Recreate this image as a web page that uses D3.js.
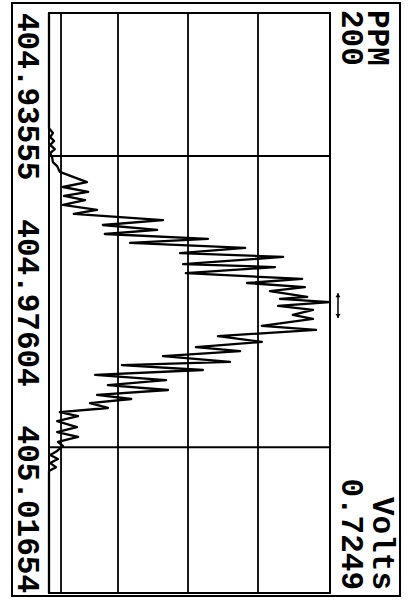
<!DOCTYPE html>
<html>
<head>
<meta charset="utf-8">
<script src="https://cdn.jsdelivr.net/npm/d3@7/dist/d3.min.js"></script>
<style>
  body { margin: 0; background: #fff; }
  text { font-family: "Liberation Mono", "DejaVu Sans Mono", monospace; font-weight: bold; fill: #000; }
</style>
</head>
<body>
<div class="container"></div>
<script>
// trace: offset from start wavelength (ppm) and signal (volts)
const ppm = [0, 39.7, 41.4, 42.8, 44.1, 45.5, 46.9, 48.3, 49.7, 51.4, 52.8, 54.8,
  58.3, 60.0, 61.7, 63.1, 64.5, 66.2, 67.9, 69.3, 71.4, 73.1, 74.8, 76.2, 77.9, 79.3,
  81.0, 82.8, 84.1, 86.6, 87.6, 89.7, 91.7, 93.1, 94.5, 95.9, 97.9, 98.6, 99.7,
  101.0, 102.4, 104.1, 105.5, 107.9, 109.3, 111.4, 113.4, 115.2, 116.6, 118.3, 120.3,
  121.4, 123.1, 124.8, 126.6, 128.3, 130.0, 131.7, 133.1, 134.5, 136.2, 137.6,
  139.0, 140.7, 142.8, 144.5, 146.2, 147.9, 149.3, 151.0, 152.4, 153.8, 155.2, 156.6,
  157.9, 161.0, 200];
const volts = [0, 0, 0.010, 0.003, 0.013, 0.003, 0.015, 0.003, 0.008, 0.010, 0.021, 0.028,
  0.098, 0.036, 0.101, 0.039, 0.093, 0.036, 0.124, 0.064, 0.294, 0.139, 0.279, 0.144, 0.410, 0.209,
  0.506, 0.338, 0.604, 0.346, 0.583, 0.353, 0.653, 0.511, 0.660, 0.570, 0.666, 0.596, 0.7249,
  0.591, 0.681, 0.629, 0.681, 0.549, 0.689, 0.436, 0.549, 0.379, 0.493, 0.294, 0.467,
  0.188, 0.397, 0.119, 0.302, 0.152, 0.307, 0.124, 0.212, 0.106, 0.152, 0.028,
  0.075, 0.021, 0.072, 0.021, 0.075, 0.023, 0.036, 0.021, 0.003, 0.023, 0.003, 0.018,
  0, 0, 0];

const tickValues = [0, 100, 200];
const tickLabels = ["404.93555", "404.97604", "405.01654"];
const gridVolts = [0.178, 0.3586, 0.5392];
const baselineVolts = [0.031];
const cursorPpm = [49.3, 149.7];
const markerPpm = [96.6, 105.2];
const markerVolts = 0.7455;
const spanLabel = ["PPM", "200"];
const scaleLabel = ["Volts", "0.7249"];
const ppmSpan = 200;
const voltsMax = 0.7249;

// the plot is drawn landscape and then turned a quarter turn
const width = 602;
const height = 410;
const margin = { top: 80, right: 9, bottom: 49, left: 13 };

const svg = d3.select(".container")
  .append("svg")
  .attr("width", 410)
  .attr("height", 602);

const g = svg.append("g")
  .attr("transform", "translate(410,0) rotate(90)");

const x = d3.scaleLinear()
  .domain([0, ppmSpan])
  .range([margin.left, width - margin.right]);

const y = d3.scaleLinear()
  .domain([0, voltsMax])
  .range([height - margin.bottom, margin.top]);

// outer box
g.append("rect")
  .attr("x", 3).attr("y", 10)
  .attr("width", 593).attr("height", 388)
  .attr("fill", "none")
  .attr("stroke", "#000")
  .attr("stroke-width", 2);

// horizontal grid lines
g.selectAll(".grid")
  .data(gridVolts.concat(baselineVolts))
  .enter()
  .append("line")
  .attr("x1", x(0)).attr("x2", x(ppmSpan))
  .attr("y1", d => y(d)).attr("y2", d => y(d))
  .attr("stroke", "#000")
  .attr("stroke-width", 1.8);

// cursor lines
g.selectAll(".cursor")
  .data(cursorPpm)
  .enter()
  .append("line")
  .attr("x1", d => x(d)).attr("x2", d => x(d))
  .attr("y1", y(0)).attr("y2", y(voltsMax))
  .attr("stroke", "#000")
  .attr("stroke-width", 2);

// plot frame
g.append("rect")
  .attr("x", x(0)).attr("y", y(voltsMax))
  .attr("width", x(ppmSpan) - x(0))
  .attr("height", y(0) - y(voltsMax))
  .attr("fill", "none")
  .attr("stroke", "#000")
  .attr("stroke-width", 2);

// trace
const line = d3.line()
  .x((d, i) => x(ppm[i]))
  .y(d => y(d));

g.append("path")
  .datum(volts)
  .attr("d", line)
  .attr("fill", "none")
  .attr("stroke", "#000")
  .attr("stroke-width", 2.3)
  .attr("stroke-linejoin", "round");

// double arrow marker above the peak
g.append("line")
  .attr("x1", x(markerPpm[0])).attr("x2", x(markerPpm[1]))
  .attr("y1", y(markerVolts)).attr("y2", y(markerVolts))
  .attr("stroke", "#000")
  .attr("stroke-width", 1.5);

g.selectAll(".arrow")
  .data(markerPpm)
  .enter()
  .append("path")
  .attr("d", (d, i) => {
    const px = x(d), py = y(markerVolts), s = i === 0 ? 1 : -1;
    return `M${px},${py} L${px + 4 * s},${py - 2.5} L${px + 4 * s},${py + 2.5} Z`;
  })
  .attr("fill", "#000");

// tick labels under the plot
g.selectAll(".tick")
  .data(tickValues)
  .enter()
  .append("text")
  .attr("x", d => x(d))
  .attr("y", 392)
  .attr("text-anchor", (d, i) => ["start", "middle", "end"][i])
  .attr("font-size", 31)
  .text((d, i) => tickLabels[i]);

// span and full-scale labels
g.selectAll(".span")
  .data(spanLabel)
  .enter()
  .append("text")
  .attr("x", 10)
  .attr("y", (d, i) => [42, 68][i])
  .attr("font-size", 31)
  .text(d => d);

g.selectAll(".scale")
  .data(scaleLabel)
  .enter()
  .append("text")
  .attr("x", 590)
  .attr("y", (d, i) => [37, 68][i])
  .attr("text-anchor", "end")
  .attr("font-size", 31)
  .text(d => d);
</script>
</body>
</html>
